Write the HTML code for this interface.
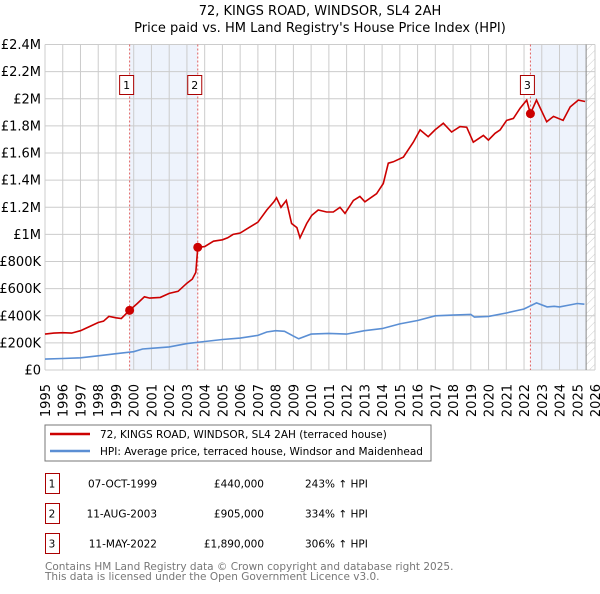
<!DOCTYPE html>
<html><head><meta charset="utf-8"><style>
body{margin:0;background:#fff;font-family:"DejaVu Sans","Liberation Sans",sans-serif}
svg text{font-family:"DejaVu Sans","Liberation Sans",sans-serif}
</style></head><body>
<svg id="c" width="600" height="590" xmlns="http://www.w3.org/2000/svg">
<defs><pattern id="hatch" width="6" height="6" patternUnits="userSpaceOnUse" patternTransform="rotate(45)"><line x1="0" y1="0" x2="0" y2="6" stroke="#ccc" stroke-width="1"/></pattern></defs>
<text x="320" y="15" text-anchor="middle" font-size="13">72, KINGS ROAD, WINDSOR, SL4 2AH</text>
<text x="320" y="32" text-anchor="middle" font-size="13">Price paid vs. HM Land Registry's House Price Index (HPI)</text>
<g id="plot"></g>
<rect x="45" y="425" width="386" height="36" fill="#fff" stroke="#777"/>
<line x1="50" y1="434" x2="90" y2="434" stroke="#cc0000" stroke-width="2.5"/>
<text x="100" y="438" font-size="10.5">72, KINGS ROAD, WINDSOR, SL4 2AH (terraced house)</text>
<line x1="50" y1="451" x2="90" y2="451" stroke="#5b8fd4" stroke-width="2.5"/>
<text x="100" y="455" font-size="10.5">HPI: Average price, terraced house, Windsor and Maidenhead</text>
<g id="table" font-size="10.5"></g>
<text x="45" y="570" font-size="10.5" fill="#777">Contains HM Land Registry data © Crown copyright and database right 2025.</text>
<text x="45" y="580" font-size="10.5" fill="#777">This data is licensed under the Open Government Licence v3.0.</text>
</svg>
<script>
const redYears=[1995,1995.5,1996,1996.5,1997,1997.5,1998,1998.3,1998.6,1999,1999.3,1999.77,2000.2,2000.6,2000.9,2001.5,2002,2002.5,2003,2003.3,2003.5,2003.61,2004,2004.5,2005,2005.3,2005.6,2006,2006.5,2007,2007.5,2007.9,2008.05,2008.3,2008.6,2008.9,2009.2,2009.37,2009.75,2010.03,2010.4,2010.87,2011.25,2011.63,2011.91,2012.38,2012.75,2013.03,2013.69,2014.07,2014.35,2014.63,2015.2,2015.76,2016.14,2016.6,2016.98,2017.45,2017.92,2018.39,2018.77,2019.14,2019.71,2019.99,2020.37,2020.65,2021.02,2021.4,2021.78,2022.15,2022.36,2022.7,2023.28,2023.66,2024.2,2024.6,2025.06,2025.44];
const redValues=[265,272,275,272,290,320,350,360,395,385,380,440,490,540,530,535,565,580,640,670,720,905,910,950,960,975,1000,1010,1050,1090,1180,1240,1270,1200,1250,1080,1050,975,1080,1140,1180,1165,1165,1200,1155,1250,1280,1240,1300,1375,1525,1535,1570,1680,1770,1720,1770,1820,1755,1795,1790,1680,1730,1695,1745,1770,1840,1855,1930,1990,1890,1990,1830,1870,1840,1940,1990,1980];
const hpiYears=[1995,1996,1997,1998,1999,2000,2000.5,2001,2002,2003,2004,2005,2006,2007,2007.5,2008,2008.5,2009,2009.3,2010,2011,2012,2013,2014,2015,2016,2017,2018,2019,2019.2,2020,2021,2022,2022.7,2023.3,2023.7,2024,2024.6,2025,2025.4];
const hpiValues=[80,85,90,105,120,135,155,160,170,195,210,225,235,255,280,290,285,250,230,265,270,265,290,305,340,365,400,405,410,390,395,420,450,495,465,470,465,480,490,485];
const saleYears=[1999.77,2003.61,2022.36];
const saleValues=[440,905,1890];
const saleLabels=["1","2","3"];
const saleDates=["07-OCT-1999","11-AUG-2003","11-MAY-2022"];
const salePrices=["£440,000","£905,000","£1,890,000"];
const salePcts=["243% ↑ HPI","334% ↑ HPI","306% ↑ HPI"];
const yTicks=[0,200,400,600,800,1000,1200,1400,1600,1800,2000,2200,2400];
const yTickLabels=["£0","£200K","£400K","£600K","£800K","£1M","£1.2M","£1.4M","£1.6M","£1.8M","£2M","£2.2M","£2.4M"];
const xTicks=[1995,1996,1997,1998,1999,2000,2001,2002,2003,2004,2005,2006,2007,2008,2009,2010,2011,2012,2013,2014,2015,2016,2017,2018,2019,2020,2021,2022,2023,2024,2025,2026];
const dataEnd=2025.5;

const X0=45,X1=595,Y0=370,Y1=44.5;
const xs=y=>X0+(y-1995)/(2026-1995)*(X1-X0);
const ys=v=>Y0-v/2400*(Y0-Y1);
const NS="http://www.w3.org/2000/svg";
const plot=document.getElementById('plot');
function mk(tag,attrs,parent){const e=document.createElementNS(NS,tag);for(const k in attrs)e.setAttribute(k,attrs[k]);(parent||plot).appendChild(e);return e;}

let r=mk('rect',{x:xs(saleYears[0]),y:Y1,width:xs(saleYears[1])-xs(saleYears[0]),height:Y0-Y1,fill:'#eef3fc'});


r=mk('rect',{x:xs(saleYears[2]),y:Y1,width:xs(dataEnd)-xs(saleYears[2]),height:Y0-Y1,fill:'#eef3fc'});


r=mk('rect',{x:xs(dataEnd),y:Y1,width:X1-xs(dataEnd),height:Y0-Y1,fill:'url(#hatch)'});



yTicks.forEach((v,i)=>{
  const l=mk('line',{x1:X0,x2:X1,y1:ys(v),y2:ys(v),stroke:'#ccc','stroke-width':1});
  
  
  const t=mk('text',{x:X0-4,y:ys(v)+4.5,'text-anchor':'end','font-size':13});
  t.textContent=yTickLabels[i];
  
  
});
xTicks.forEach(y=>{
  const l=mk('line',{x1:xs(y),x2:xs(y),y1:Y1,y2:Y0,stroke:'#ccc','stroke-width':1});
  
  
  const t=mk('text',{x:0,y:0,'text-anchor':'end','font-size':13,transform:`translate(${xs(y)+5},384) rotate(-90)`});
  t.textContent=y;
  
  
});
let dl=mk('line',{x1:xs(dataEnd),x2:xs(dataEnd),y1:Y1,y2:Y0,stroke:'#888','stroke-width':1});



saleYears.forEach((y,i)=>{
  const l=mk('line',{x1:xs(y),x2:xs(y),y1:Y1,y2:Y0,stroke:'#e06060','stroke-width':1,'stroke-dasharray':'2,2'});
  
  
  const b=mk('rect',{x:xs(y)-10,y:75.5,width:14,height:19,fill:'#fff',stroke:'#aa0000'});
  
  
  const t=mk('text',{x:xs(y)-3,y:89,'text-anchor':'middle','font-size':11});
  t.textContent=saleLabels[i];
  
  
});

const path=(xa,va)=>xa.map((y,i)=>(i?'L':'M')+xs(y).toFixed(1)+','+ys(va[i]).toFixed(1)).join('');
let p=mk('path',{d:path(hpiYears,hpiValues),fill:'none',stroke:'#5b8fd4','stroke-width':1.6});


p=mk('path',{d:path(redYears,redValues),fill:'none',stroke:'#cc0000','stroke-width':1.6});


saleYears.forEach((y,i)=>{
  const c=mk('circle',{cx:xs(y),cy:ys(saleValues[i]),r:4.5,fill:'#cc0000'});
  
  
});

const tb=document.getElementById('table');
saleLabels.forEach((s,i)=>{
  const cy=483+i*30;
  const b=mk('rect',{x:45.5,y:cy-9.5,width:14,height:20,fill:'#fff',stroke:'#aa0000'},tb);
  
  
  const vals=[[s,52,'middle'],[saleDates[i],157,'end'],[salePrices[i],264,'end'],[salePcts[i],305,'start']];
  const names=['table-row-number','table-row-date','table-row-price','table-row-hpi-change'];
  vals.forEach((v,j)=>{
    const t=mk('text',{x:v[1],y:cy+4.5,'text-anchor':v[2]},tb);
    t.textContent=v[0];
    
    
  });
});
</script>
</body></html>
